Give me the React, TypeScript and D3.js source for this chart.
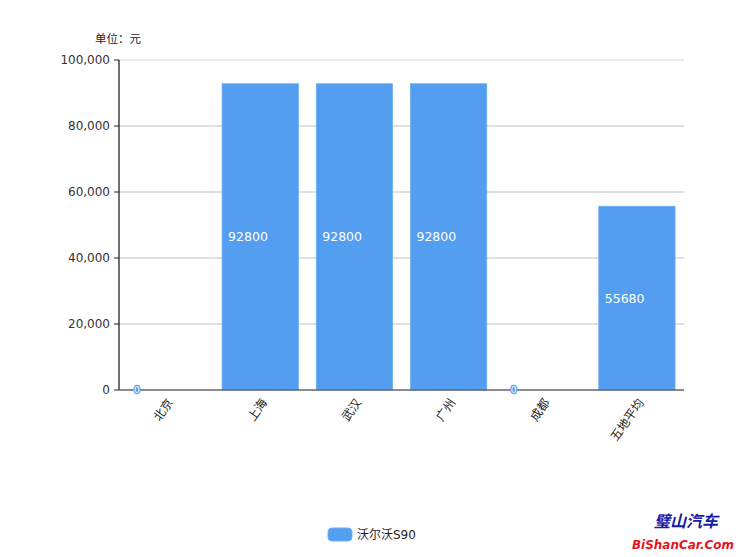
import React from "react";
import * as d3 from "d3";

const categories = ["北京", "上海", "武汉", "广州", "成都", "五地平均"];
const values = [0, 92800, 92800, 92800, 0, 55680];
const yTicks = [0, 20000, 40000, 60000, 80000, 100000];
const seriesName = "沃尔沃S90";
const unitLabel = "单位：元";

const W = 744, H = 557;
const M = { left: 119, right: 684, top: 60, bottom: 390 };
const FONT = "'DejaVu Sans', 'Noto Sans CJK SC', sans-serif";
const BAR = "#539ef0";

export default function App() {
  const x = d3.scaleBand<string>().domain(categories).range([M.left, M.right]).paddingInner(0.19).paddingOuter(0.095);
  const y = d3.scaleLinear().domain([0, 100000]).range([M.bottom, M.top]);
  const fmt = d3.format(",");
  return (
    <svg width={W} height={H} style={{ position: "absolute", left: 0, top: 0, background: "#fff" }} fontFamily={FONT}>
      <text x={95} y={43} fontSize={11.5} fill="#222">{unitLabel}</text>
      {yTicks.map((t) => (
        <g key={t}>
          {t > 0 && <line x1={M.left} x2={M.right} y1={y(t)} y2={y(t)} stroke={t === 100000 ? "#d8d8d8" : "#c0c0c0"} strokeWidth={1} />}
          <line x1={M.left - 5} x2={M.left} y1={y(t)} y2={y(t)} stroke="#222" />
          <text x={M.left - 9} y={y(t)} dy="0.35em" textAnchor="end" fontSize={12} fill="#333">{fmt(t)}</text>
        </g>
      ))}
      {categories.map((c, i) => (
        <rect key={c} x={x(c)} y={y(values[i])} width={x.bandwidth()} height={y(0) - y(values[i])} fill={BAR} stroke="#6aaef2" strokeWidth={0.8} />
      ))}
      <line x1={M.left} x2={M.left} y1={M.top} y2={M.bottom} stroke="#111" strokeWidth={1.2} />
      <line x1={M.left} x2={M.right} y1={M.bottom} y2={M.bottom} stroke="#666" strokeWidth={1.5} />
      {categories.map((c, i) => {
        const v = values[i];
        const lx = (x(c) as number) + 6;
        const ly = (y(v) + y(0)) / 2;
        return v === 0 ? (
          <text key={c} x={lx + 3} y={ly} dy="0.35em" textAnchor="middle" fontSize={9} fill="#fff" stroke={BAR} strokeWidth={2.5} paintOrder="stroke">{v}</text>
        ) : (
          <text key={c} x={lx} y={ly} dy="0.35em" fontSize={12.5} fill="#fff">{v}</text>
        );
      })}
      {categories.map((c) => {
        const cx = (x(c) as number) + x.bandwidth() / 2 + 4;
        return (
          <text key={c} transform={`translate(${cx},${M.bottom + 10}) rotate(-55)`} textAnchor="end" dy="0.35em" fontSize={12} fill="#222">{c}</text>
        );
      })}
      <rect x={328} y={528} width={24} height={13} rx={4} fill={BAR} stroke="#6aaef2" />
      <text x={357} y={535} dy="0.35em" fontSize={12} fill="#222">{seriesName}</text>
      <text x={686} y={527} textAnchor="middle" fontSize={16} fontWeight="bold" fill="#1a1aa8" fontFamily="'Noto Sans CJK SC', sans-serif" fontStyle="italic">璧山汽车</text>
      <text x={632} y={549} textLength={102} lengthAdjust="spacingAndGlyphs" fontSize={13} fontWeight="bold" fontStyle="italic" fill="#e8141c" fontFamily="'DejaVu Sans', sans-serif">BiShanCar.Com</text>
    </svg>
  );
}
